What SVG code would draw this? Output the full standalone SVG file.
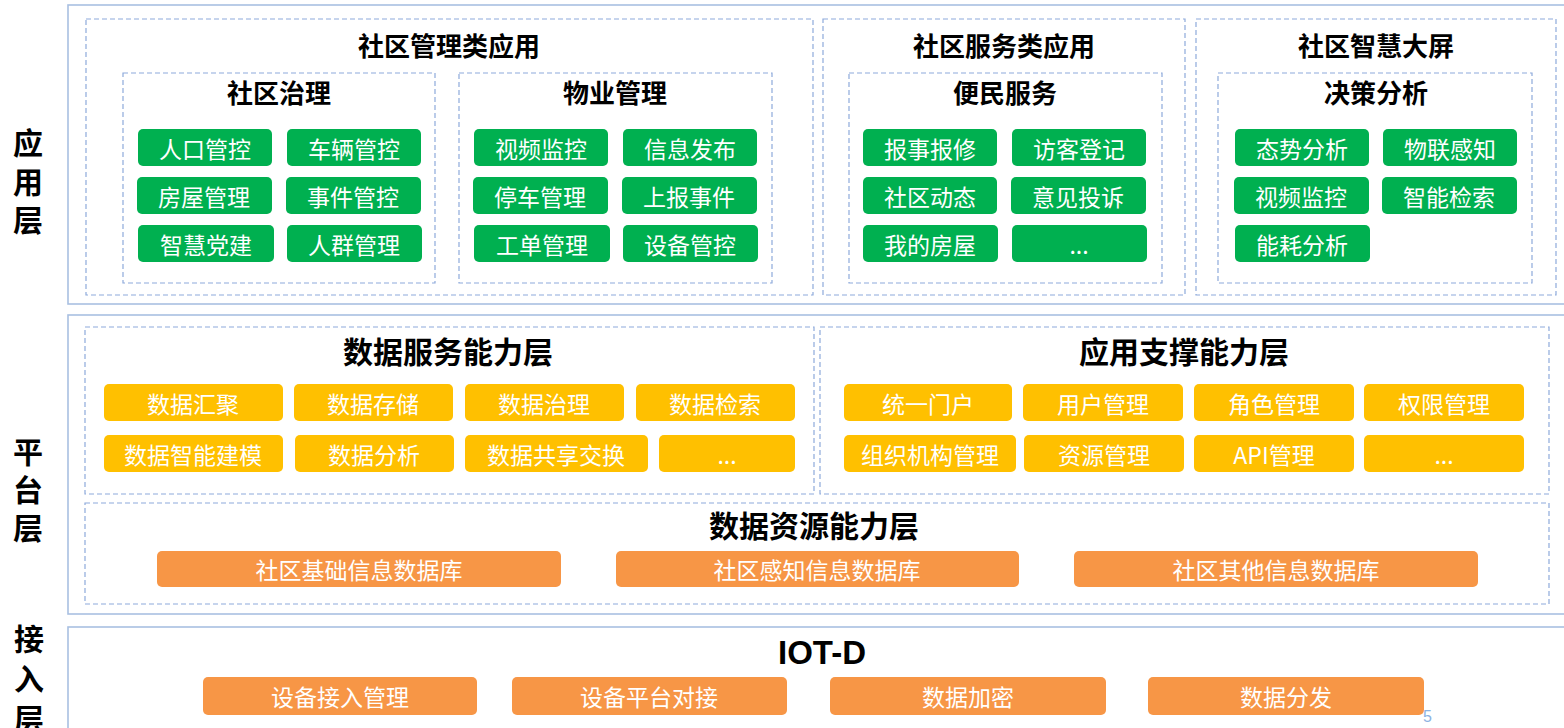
<svg xmlns="http://www.w3.org/2000/svg" width="1564" height="728" viewBox="0 0 1564 728">
<style>
.layer{fill:#fff;stroke:#A9C0E2;stroke-width:1.6}
.dash{fill:none;stroke:#8EAADB;stroke-width:1.2;stroke-dasharray:5 3}
.side{font-family:"Noto Sans CJK SC","Noto Sans",sans-serif;font-size:30px;font-weight:bold;fill:#000;text-anchor:middle;dominant-baseline:central}
.t1{font-family:"Noto Sans CJK SC","Noto Sans",sans-serif;font-size:26px;font-weight:bold;fill:#000;text-anchor:middle;dominant-baseline:central}
.t2{font-family:"Noto Sans CJK SC","Noto Sans",sans-serif;font-size:30px;font-weight:bold;fill:#000;text-anchor:middle;dominant-baseline:central}
.iot{font-family:"Liberation Sans",Arial,sans-serif;font-size:33px;font-weight:bold;fill:#000;text-anchor:middle}
.g{fill:#00B050}
.y{fill:#FFC000}
.o{fill:#F79646}
.bt{font-family:"Noto Sans CJK SC","Noto Sans",sans-serif;font-size:23px;fill:#fff;text-anchor:middle;dominant-baseline:central}
.pg{font-family:"Liberation Sans",Arial,sans-serif;font-size:16px;fill:#8DB3E2}
</style>
<rect width="1564" height="728" fill="#fff"/>

<g id="side-labels">
<text class="side" x="28" y="141">应</text>
<text class="side" x="28" y="180">用</text>
<text class="side" x="28" y="218">层</text>
<text class="side" x="28" y="450">平</text>
<text class="side" x="28" y="488">台</text>
<text class="side" x="28" y="526">层</text>
<text class="side" x="29" y="637">接</text>
<text class="side" x="29" y="677">入</text>
<text class="side" x="29" y="717">层</text>
</g>

<g id="app-layer">
<rect class="layer" x="68" y="5" width="1510" height="299"/>
</g>
<g id="platform-layer">
<rect class="layer" x="68" y="315" width="1510" height="299"/>
</g>
<g id="access-layer">
<rect class="layer" x="68" y="627" width="1510" height="120"/>
</g>

<g id="mgmt-apps">
<rect class="dash" x="86" y="19" width="727" height="276"/>
<text class="t1" x="449" y="44">社区管理类应用</text>
</g>
<g id="community-governance">
<rect class="dash" x="123" y="73" width="312" height="210"/>
<text class="t1" x="279" y="91">社区治理</text>
<rect class="g" x="138" y="129" width="134" height="37" rx="5"/><text class="bt" x="205" y="147.5">人口管控</text>
<rect class="g" x="287" y="129" width="134" height="37" rx="5"/><text class="bt" x="354" y="147.5">车辆管控</text>
<rect class="g" x="137" y="177" width="135" height="37" rx="5"/><text class="bt" x="204" y="195.5">房屋管理</text>
<rect class="g" x="286" y="177" width="135" height="37" rx="5"/><text class="bt" x="353" y="195.5">事件管控</text>
<rect class="g" x="138" y="225" width="136" height="37" rx="5"/><text class="bt" x="206" y="243.5">智慧党建</text>
<rect class="g" x="287" y="225" width="135" height="37" rx="5"/><text class="bt" x="354" y="243.5">人群管理</text>
</g>
<g id="property-mgmt">
<rect class="dash" x="459" y="73" width="313" height="210"/>
<text class="t1" x="615" y="91">物业管理</text>
<rect class="g" x="474" y="129" width="134" height="37" rx="5"/><text class="bt" x="541" y="147.5">视频监控</text>
<rect class="g" x="623" y="129" width="134" height="37" rx="5"/><text class="bt" x="690" y="147.5">信息发布</text>
<rect class="g" x="473" y="177" width="135" height="37" rx="5"/><text class="bt" x="540" y="195.5">停车管理</text>
<rect class="g" x="622" y="177" width="135" height="37" rx="5"/><text class="bt" x="689" y="195.5">上报事件</text>
<rect class="g" x="474" y="225" width="136" height="37" rx="5"/><text class="bt" x="542" y="243.5">工单管理</text>
<rect class="g" x="623" y="225" width="135" height="37" rx="5"/><text class="bt" x="690" y="243.5">设备管控</text>
</g>

<g id="service-apps">
<rect class="dash" x="823" y="19" width="362" height="276"/>
<text class="t1" x="1004" y="44">社区服务类应用</text>
</g>
<g id="convenience-services">
<rect class="dash" x="849" y="73" width="313" height="210"/>
<text class="t1" x="1005" y="91">便民服务</text>
<rect class="g" x="863" y="129" width="134" height="37" rx="5"/><text class="bt" x="930" y="147.5">报事报修</text>
<rect class="g" x="1012" y="129" width="134" height="37" rx="5"/><text class="bt" x="1079" y="147.5">访客登记</text>
<rect class="g" x="863" y="177" width="134" height="37" rx="5"/><text class="bt" x="930" y="195.5">社区动态</text>
<rect class="g" x="1011" y="177" width="135" height="37" rx="5"/><text class="bt" x="1078" y="195.5">意见投诉</text>
<rect class="g" x="863" y="225" width="135" height="37" rx="5"/><text class="bt" x="930" y="243.5">我的房屋</text>
<rect class="g" x="1012" y="225" width="135" height="37" rx="5"/><text class="bt" x="1079" y="243.5">...</text>
</g>

<g id="smart-screen">
<rect class="dash" x="1196" y="19" width="360" height="276"/>
<text class="t1" x="1376" y="44">社区智慧大屏</text>
</g>
<g id="decision-analysis">
<rect class="dash" x="1218" y="73" width="314" height="210"/>
<text class="t1" x="1376" y="91">决策分析</text>
<rect class="g" x="1235" y="129" width="134" height="37" rx="5"/><text class="bt" x="1302" y="147.5">态势分析</text>
<rect class="g" x="1383" y="129" width="134" height="37" rx="5"/><text class="bt" x="1450" y="147.5">物联感知</text>
<rect class="g" x="1234" y="177" width="135" height="37" rx="5"/><text class="bt" x="1301" y="195.5">视频监控</text>
<rect class="g" x="1382" y="177" width="135" height="37" rx="5"/><text class="bt" x="1449" y="195.5">智能检索</text>
<rect class="g" x="1235" y="225" width="135" height="37" rx="5"/><text class="bt" x="1302" y="243.5">能耗分析</text>
</g>

<g id="data-service">
<rect class="dash" x="85" y="327" width="729" height="167"/>
<text class="t2" x="448" y="350">数据服务能力层</text>
<rect class="y" x="104" y="384" width="179" height="37" rx="5"/><text class="bt" x="193" y="402.5">数据汇聚</text>
<rect class="y" x="294" y="384" width="159" height="37" rx="5"/><text class="bt" x="373" y="402.5">数据存储</text>
<rect class="y" x="465" y="384" width="159" height="37" rx="5"/><text class="bt" x="544" y="402.5">数据治理</text>
<rect class="y" x="636" y="384" width="159" height="37" rx="5"/><text class="bt" x="715" y="402.5">数据检索</text>
<rect class="y" x="104" y="435" width="179" height="37" rx="5"/><text class="bt" x="193" y="453.5">数据智能建模</text>
<rect class="y" x="295" y="435" width="159" height="37" rx="5"/><text class="bt" x="374" y="453.5">数据分析</text>
<rect class="y" x="465" y="435" width="183" height="37" rx="5"/><text class="bt" x="556" y="453.5">数据共享交换</text>
<rect class="y" x="659" y="435" width="136" height="37" rx="5"/><text class="bt" x="727" y="453.5">...</text>
</g>

<g id="app-support">
<rect class="dash" x="820" y="327" width="729" height="167"/>
<text class="t2" x="1184" y="350">应用支撑能力层</text>
<rect class="y" x="844" y="384" width="168" height="37" rx="5"/><text class="bt" x="928" y="402.5">统一门户</text>
<rect class="y" x="1023" y="384" width="160" height="37" rx="5"/><text class="bt" x="1103" y="402.5">用户管理</text>
<rect class="y" x="1194" y="384" width="160" height="37" rx="5"/><text class="bt" x="1274" y="402.5">角色管理</text>
<rect class="y" x="1364" y="384" width="160" height="37" rx="5"/><text class="bt" x="1444" y="402.5">权限管理</text>
<rect class="y" x="844" y="435" width="172" height="37" rx="5"/><text class="bt" x="930" y="453.5">组织机构管理</text>
<rect class="y" x="1024" y="435" width="160" height="37" rx="5"/><text class="bt" x="1104" y="453.5">资源管理</text>
<rect class="y" x="1194" y="435" width="160" height="37" rx="5"/><text class="bt" x="1274" y="453.5">API管理</text>
<rect class="y" x="1364" y="435" width="160" height="37" rx="5"/><text class="bt" x="1444" y="453.5">...</text>
</g>

<g id="data-resource">
<rect class="dash" x="85" y="503" width="1464" height="101"/>
<text class="t2" x="814" y="524">数据资源能力层</text>
<rect class="o" x="157" y="551" width="404" height="36" rx="5"/><text class="bt" x="359" y="569">社区基础信息数据库</text>
<rect class="o" x="616" y="551" width="403" height="36" rx="5"/><text class="bt" x="817" y="569">社区感知信息数据库</text>
<rect class="o" x="1074" y="551" width="404" height="36" rx="5"/><text class="bt" x="1276" y="569">社区其他信息数据库</text>
</g>

<g id="iot-d">
<text class="iot" x="822" y="664">IOT-D</text>
<rect class="o" x="203" y="677" width="274" height="38" rx="5"/><text class="bt" x="340" y="696">设备接入管理</text>
<rect class="o" x="512" y="677" width="275" height="38" rx="5"/><text class="bt" x="649" y="696">设备平台对接</text>
<rect class="o" x="830" y="677" width="276" height="38" rx="5"/><text class="bt" x="968" y="696">数据加密</text>
<rect class="o" x="1148" y="677" width="276" height="38" rx="5"/><text class="bt" x="1286" y="696">数据分发</text>
</g>

<g id="connectors"></g>

<text class="pg" x="1423" y="722">5</text>
</svg>
